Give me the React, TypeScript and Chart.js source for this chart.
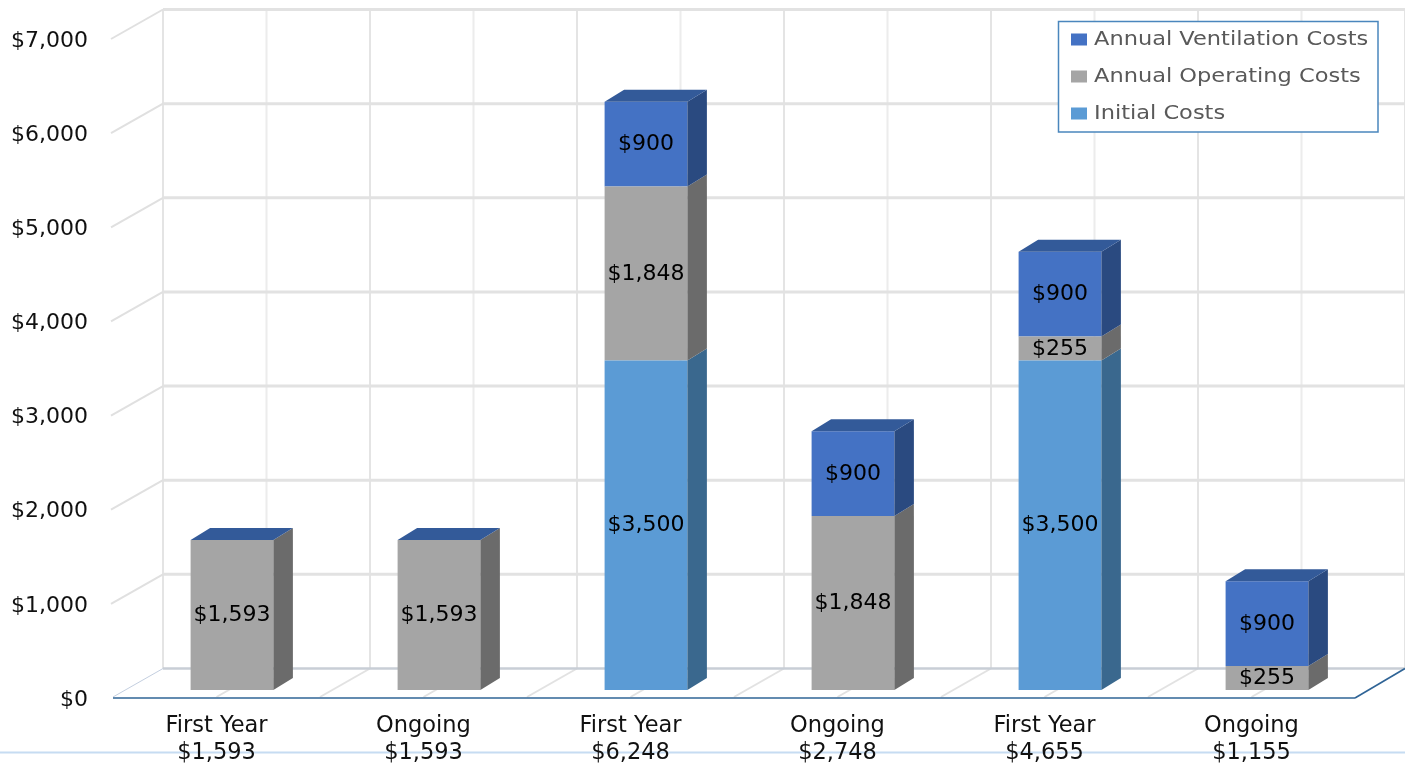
import React, { useEffect, useRef } from "react";
import { Chart, registerables } from "chart.js";

Chart.register(...registerables);

const categories: string[][] = [
  ["First Year", "$1,593"],
  ["Ongoing", "$1,593"],
  ["First Year", "$6,248"],
  ["Ongoing", "$2,748"],
  ["First Year", "$4,655"],
  ["Ongoing", "$1,155"],
];
const initialCosts = [0, 0, 3500, 0, 3500, 0];
const operatingCosts = [1593, 1593, 1848, 1848, 255, 255];
const ventilationCosts = [0, 0, 900, 900, 900, 900];
const legendOrder = [2, 1, 0];

const FONT = '"DejaVu Sans"';
const money = (v: number) => "$" + Math.round(v).toLocaleString("en-US");

const FLOOR_SHIFT = -3;
const WALL_DX = 50;
const WALL_DY = -28.5 + FLOOR_SHIFT;
const BAR_DX = 15.5;
const BAR_DY = -7 + FLOOR_SHIFT;
const DEPTH_DX = 19.5;
const DEPTH_DY = -12;

const quad = (ctx: CanvasRenderingContext2D, p: number[][], fill: string) => {
  ctx.beginPath();
  ctx.moveTo(p[0][0], p[0][1]);
  for (let i = 1; i < p.length; i++) ctx.lineTo(p[i][0], p[i][1]);
  ctx.closePath();
  ctx.fillStyle = fill;
  ctx.fill();
};
const seg = (ctx: CanvasRenderingContext2D, a: number, b: number, c: number, d: number, col: string, w: number) => {
  ctx.beginPath();
  ctx.moveTo(a, b);
  ctx.lineTo(c, d);
  ctx.strokeStyle = col;
  ctx.lineWidth = w;
  ctx.stroke();
};

const threeD = {
  id: "threeD",
  beforeDraw(chart: any) {
    const { ctx, chartArea: a, scales } = chart;
    const y = scales.y;
    ctx.save();
    ctx.fillStyle = "#ffffff";
    ctx.fillRect(0, 0, chart.width, chart.height);
    seg(ctx, 0, 752.5, chart.width, 752.5, "#c6dcf2", 2);
    const y0 = y.getPixelForValue(0) + FLOOR_SHIFT;
    const step = (a.right - a.left) / (categories.length * 2);
    const topBack = y.getPixelForValue(7000) + WALL_DY;
    const bottomBack = y.getPixelForValue(0) + WALL_DY;
    // back wall verticals and floor diagonals
    for (let i = 0; i <= categories.length * 2; i++) {
      const xf = a.left + i * step;
      seg(ctx, xf + WALL_DX, topBack, xf + WALL_DX, bottomBack, i % 2 ? "#ececec" : "#e4e4e4", 2);
      if (i < categories.length * 2) seg(ctx, xf, y0, xf + WALL_DX, bottomBack, i === 0 ? "#c4cfe0" : "#e2e2e2", i === 0 ? 1 : 2);
    }
    // back wall horizontals and left wall diagonals
    for (const t of y.ticks) {
      const p = y.getPixelForValue(t.value);
      const py = p + WALL_DY;
      seg(ctx, a.left + WALL_DX, py, a.right + WALL_DX, py, t.value === 0 ? "#c8ced6" : "#e2e2e2", t.value === 0 ? 2.5 : 3);
      if (t.value !== 0) seg(ctx, a.left - 2, p + FLOOR_SHIFT + 1, a.left + WALL_DX, py, "#e0e0e0", 2);
    }
    // floor front edge
    seg(ctx, a.left, y0 + 1, a.right, y0 + 1, "#2f6496", 1.6);
    seg(ctx, a.right, y0 + 1, a.right + WALL_DX, bottomBack, "#2f6496", 1.6);
    ctx.restore();
  },
  beforeDatasetsDraw(chart: any) {
    chart.ctx.save();
    chart.ctx.translate(BAR_DX, BAR_DY);
  },
  afterDatasetsDraw(chart: any) {
    const ctx = chart.ctx as CanvasRenderingContext2D;
    const n = chart.data.datasets.length;
    chart.data.datasets.forEach((ds: any, di: number) => {
      const meta = chart.getDatasetMeta(di);
      meta.data.forEach((bar: any, i: number) => {
        const v = ds.data[i];
        const r = bar.x + bar.width / 2;
        const l = bar.x - bar.width / 2;
        if (v > 0) {
          quad(ctx, [[r, bar.y], [r + DEPTH_DX, bar.y + DEPTH_DY], [r + DEPTH_DX, bar.base + DEPTH_DY], [r, bar.base]], ds.sideColor);
        }
        if (di === n - 1) {
          quad(ctx, [[l, bar.y], [l + DEPTH_DX, bar.y + DEPTH_DY], [r + DEPTH_DX, bar.y + DEPTH_DY], [r, bar.y]], ds.topColor);
        }
      });
    });
    ctx.font = `22px ${FONT}`;
    ctx.fillStyle = "#000000";
    ctx.textAlign = "center";
    ctx.textBaseline = "middle";
    chart.data.datasets.forEach((ds: any, di: number) => {
      chart.getDatasetMeta(di).data.forEach((bar: any, i: number) => {
        const v = ds.data[i];
        if (v > 0) ctx.fillText(money(v), bar.x, (bar.y + bar.base) / 2 + 0.5);
      });
    });
    ctx.restore();
  },
  afterDraw(chart: any) {
    const ctx = chart.ctx as CanvasRenderingContext2D;
    ctx.save();
    ctx.fillStyle = "#ffffff";
    ctx.fillRect(1058.5, 21.5, 319.5, 110.5);
    ctx.strokeStyle = "#4a86bd";
    ctx.lineWidth = 1.5;
    ctx.strokeRect(1058.5, 21.5, 319.5, 110.5);
    ctx.font = `20px ${FONT}`;
    ctx.textAlign = "left";
    ctx.textBaseline = "middle";
    legendOrder.forEach((di, row) => {
      const ds = chart.data.datasets[di];
      const cy = 39.5 + row * 37;
      ctx.fillStyle = ds.backgroundColor;
      ctx.fillRect(1071, cy - 6, 16, 12);
      ctx.save();
      ctx.translate(1094, cy + 0.5);
      ctx.scale(1.125, 1);
      ctx.fillStyle = "#595959";
      ctx.fillText(ds.label, 0, 0);
      ctx.restore();
    });
    ctx.restore();
  },
};

export default function App() {
  const ref = useRef<HTMLCanvasElement>(null);
  useEffect(() => {
    const chart = new Chart(ref.current as HTMLCanvasElement, {
      type: "bar",
      data: {
        labels: categories as any,
        datasets: [
          { label: "Initial Costs", data: initialCosts, backgroundColor: "#5B9BD5", sideColor: "#3A688E", topColor: "#3F6F9C" },
          { label: "Annual Operating Costs", data: operatingCosts, backgroundColor: "#A5A5A5", sideColor: "#6B6B6B", topColor: "#7A7A7A" },
          { label: "Annual Ventilation Costs", data: ventilationCosts, backgroundColor: "#4472C4", sideColor: "#2A4A80", topColor: "#335A99" },
        ] as any,
      },
      options: {
        responsive: false,
        animation: false,
        devicePixelRatio: 1,
        layout: { padding: { top: 41, right: 50, left: 0, bottom: 0 } },
        plugins: { legend: { display: false }, tooltip: { enabled: false } },
        datasets: { bar: { categoryPercentage: 1, barPercentage: 0.4, clip: false } },
        scales: {
          x: {
            stacked: true,
            afterFit: (s: any) => { s.height = 66; },
            grid: { display: false },
            border: { display: false },
            ticks: {
              autoSkip: false,
              maxRotation: 0,
              minRotation: 0,
              padding: 5,
              color: "#111111",
              font: { family: FONT, size: 22.5, lineHeight: 1.2 },
            },
          },
          y: {
            stacked: true,
            min: 0,
            max: 7000,
            afterFit: (s: any) => { s.width = 113; },
            grid: { display: false, drawTicks: false },
            border: { display: false },
            ticks: {
              stepSize: 1000,
              padding: 25,
              color: "#111111",
              font: { family: FONT, size: 22 },
              callback: (v: any) => money(Number(v)),
            },
          },
        },
      } as any,
      plugins: [threeD],
    });
    return () => chart.destroy();
  }, []);
  return (
    <canvas
      ref={ref}
      width={1405}
      height={766}
      style={{ position: "fixed", left: 0, top: 0, width: 1405, height: 766, display: "block" }}
    />
  );
}
